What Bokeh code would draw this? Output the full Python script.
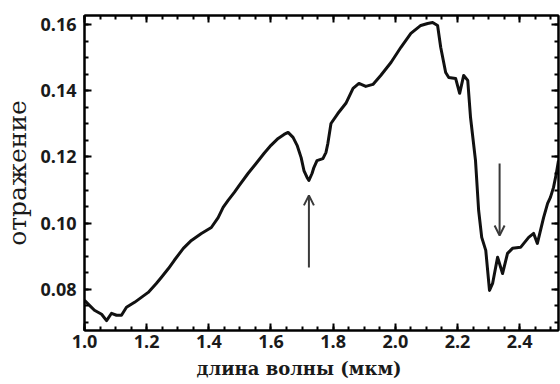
from bokeh.plotting import figure
from bokeh.models import (LinearAxis, SingleIntervalTicker, Range1d, Arrow, OpenHead,
                          CustomJSTickFormatter, PrintfTickFormatter, Title)
from bokeh.embed import file_html
from bokeh.resources import INLINE

# spectrum
wavelength = [1.000, 1.016, 1.032, 1.055, 1.071, 1.087, 1.103, 1.119, 1.135, 1.161,
              1.183, 1.205, 1.231, 1.247, 1.270, 1.289, 1.318, 1.344, 1.376, 1.408,
              1.430, 1.446, 1.462, 1.482, 1.498, 1.526, 1.552, 1.578, 1.600, 1.623,
              1.642, 1.655, 1.671, 1.684, 1.697, 1.706, 1.716, 1.722, 1.732, 1.738,
              1.748, 1.767, 1.777, 1.783, 1.793, 1.815, 1.841, 1.864, 1.883, 1.905,
              1.928, 1.953, 1.986, 2.018, 2.050, 2.082, 2.104, 2.120, 2.136, 2.146,
              2.162, 2.172, 2.194, 2.207, 2.220, 2.233, 2.242, 2.258, 2.268, 2.278,
              2.291, 2.303, 2.313, 2.329, 2.345, 2.361, 2.377, 2.403, 2.429, 2.445,
              2.457, 2.477, 2.490, 2.499, 2.509, 2.518, 2.525]
reflectance = [0.0767, 0.0752, 0.0737, 0.0725, 0.0706, 0.0728, 0.0722, 0.0722, 0.0746, 0.0761,
               0.0776, 0.0791, 0.0818, 0.0836, 0.0863, 0.0888, 0.0924, 0.0948, 0.0969, 0.0987,
               0.1017, 0.1048, 0.1069, 0.1093, 0.1114, 0.1150, 0.1180, 0.1211, 0.1235, 0.1256,
               0.1268, 0.1274, 0.1259, 0.1235, 0.1198, 0.1159, 0.1138, 0.1129, 0.1150, 0.1168,
               0.1189, 0.1195, 0.1214, 0.1241, 0.1301, 0.1331, 0.1362, 0.1407, 0.1422, 0.1413,
               0.1419, 0.1446, 0.1485, 0.1531, 0.1573, 0.1597, 0.1603, 0.1606, 0.1597, 0.1531,
               0.1455, 0.1440, 0.1437, 0.1392, 0.1446, 0.1431, 0.1319, 0.1189, 0.1039, 0.0957,
               0.0918, 0.0797, 0.0818, 0.0897, 0.0848, 0.0909, 0.0924, 0.0927, 0.0957, 0.0969,
               0.0939, 0.1017, 0.1060, 0.1078, 0.1108, 0.1150, 0.1189]

# arrows marking absorption features: (x, y_start, y_end)
arrow_x = [1.722, 2.3355]
arrow_y_start = [0.0866, 0.1180]
arrow_y_end = [0.1084, 0.0963]

x_label = "длина волны (мкм)"
y_label = "отражение"

p = figure(width=560, height=384, output_backend="svg", toolbar_location=None,
           x_range=Range1d(1.0, 2.525), y_range=Range1d(0.0676, 0.1627),
           min_border_left=83, min_border_right=2, min_border_top=15, min_border_bottom=54,
           x_axis_location=None, y_axis_location=None)
p.grid.visible = False
p.outline_line_color = "black"
p.outline_line_width = 2
p.background_fill_color = "white"
p.border_fill_color = "white"

def style_axis(ax, interval, labelled, fmt=None):
    ax.ticker = SingleIntervalTicker(interval=interval, num_minor_ticks=4)
    ax.axis_line_color = "black"
    ax.axis_line_width = 2
    ax.major_tick_in = 7
    ax.major_tick_out = 0
    ax.minor_tick_in = 4
    ax.minor_tick_out = 0
    ax.major_tick_line_width = 2
    ax.minor_tick_line_width = 2
    ax.major_tick_line_color = "black"
    ax.minor_tick_line_color = "black"
    if labelled:
        ax.formatter = PrintfTickFormatter(format=fmt)
        ax.major_label_text_font = "Open Sans"
        ax.major_label_text_font_style = "bold"
        ax.major_label_text_font_size = "18px"
        ax.major_label_text_color = "#1a1a1a"
    else:
        ax.formatter = CustomJSTickFormatter(code="return ''")
        ax.major_label_text_font_size = "1px"
        ax.major_label_standoff = 0

xb = LinearAxis()
style_axis(xb, 0.2, True, "%.1f")
xb.major_label_standoff = 4
p.add_layout(xb, "below")

yl = LinearAxis(axis_label=y_label)
style_axis(yl, 0.02, True, "%.2f")
yl.major_label_standoff = 8
yl.axis_label_standoff = 5
yl.axis_label_text_font = "DejaVu Serif"
yl.axis_label_text_font_style = "normal"
yl.axis_label_text_font_size = "25px"
yl.axis_label_text_color = "#1a1a1a"
p.add_layout(yl, "left")

xt = LinearAxis()
style_axis(xt, 0.2, False)
p.add_layout(xt, "above")

yr = LinearAxis()
style_axis(yr, 0.02, False)
p.add_layout(yr, "right")

# x-axis title, placed slightly left of centre as in the original
p.add_layout(Title(text=x_label, align="left", offset=112, standoff=10,
                   text_font="DejaVu Serif", text_font_style="bold",
                   text_font_size="18px", text_color="#1a1a1a"), "below")

p.line(wavelength, reflectance, line_color="#111111", line_width=3, line_join="round")

for xa, y0, y1 in zip(arrow_x, arrow_y_start, arrow_y_end):
    p.add_layout(Arrow(end=OpenHead(size=10, line_width=2, line_color="#3a3a3a"),
                       x_start=xa, y_start=y0, x_end=xa, y_end=y1,
                       line_width=2, line_color="#3a3a3a"))

open("out.html", "w").write(file_html(p, INLINE))
